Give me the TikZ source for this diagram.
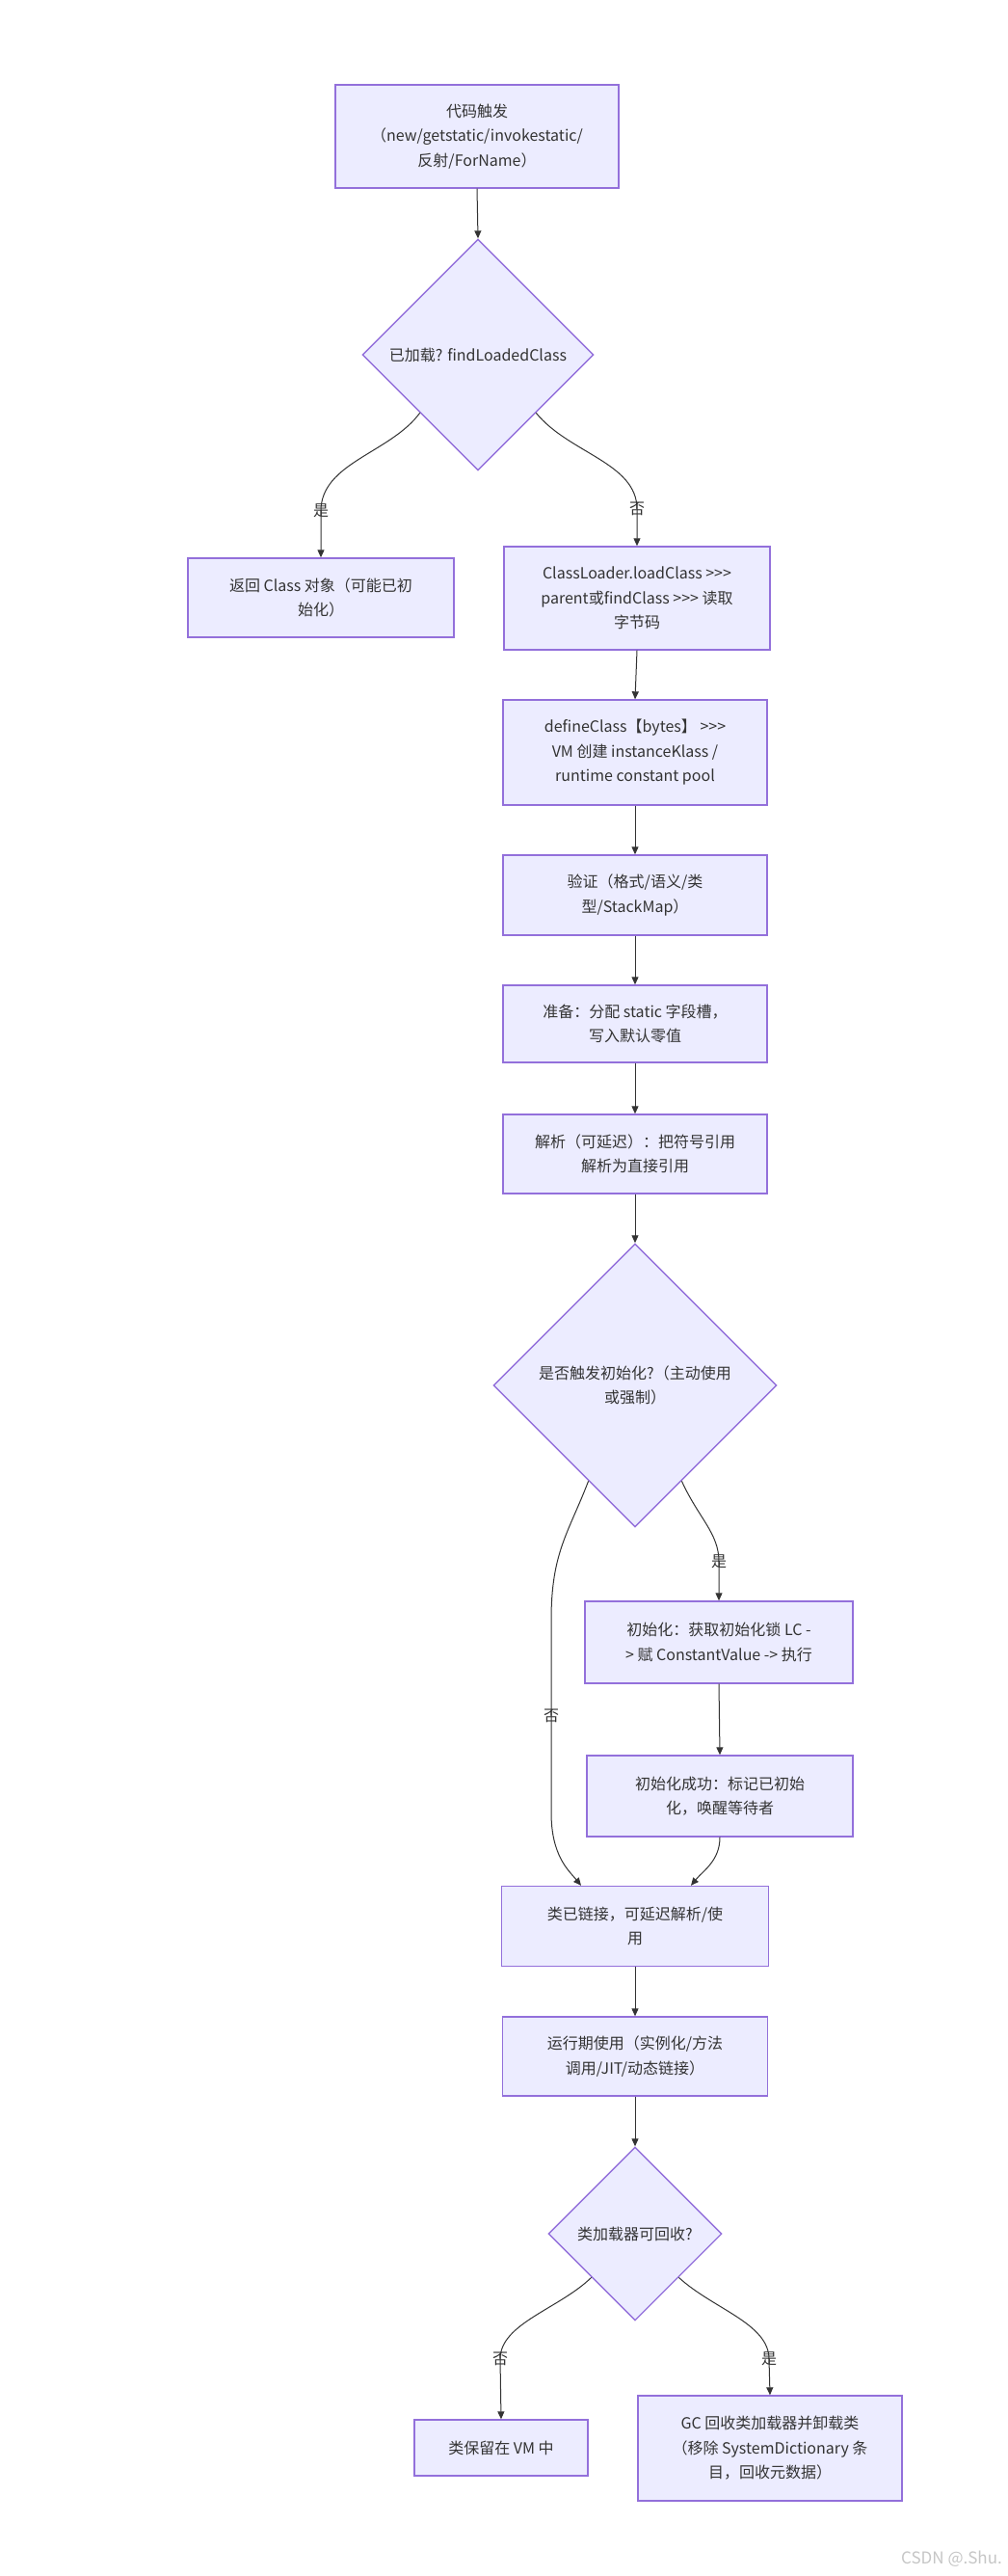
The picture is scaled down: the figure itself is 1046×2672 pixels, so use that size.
\documentclass[tikz,border=0pt]{standalone}
\usepackage{fontspec}
\setmainfont{Noto Sans CJK SC}[Ligatures=TeXOff]
\usetikzlibrary{arrows.meta,shapes.geometric}
\definecolor{boxfill}{HTML}{ECECFF}
\definecolor{boxline}{HTML}{9370DB}
\definecolor{ink}{HTML}{333333}
\begin{document}
\begin{tikzpicture}[x=1pt,y=1pt,
  box/.style={draw=boxline, fill=boxfill, line width=1.4pt, rectangle, inner sep=0pt, align=center, text=ink, font=\fontsize{16}{25.5}\selectfont},
  dia/.style={draw=boxline, fill=boxfill, line width=1.4pt, diamond, inner sep=0pt},
  txt/.style={align=center, text=ink, font=\fontsize{16}{25.5}\selectfont, inner sep=0pt},
  edge/.style={draw=ink, line width=1pt, -{Triangle[length=8pt,width=7pt]}},
  lbl/.style={text=ink, font=\fontsize{16}{20}\selectfont, inner sep=1pt}
]
\useasboundingbox (0,0) rectangle (1046,-2672);
\fill[white] (0,0) rectangle (1046,-2672);

% nodes
\node[box, minimum width=294pt, minimum height=107pt] (n1) at (495,-141.5) {代码触发\\（new/getstatic/invokestatic/\\反射/ForName）};
\node[dia, minimum width=240pt, minimum height=240pt] (d1) at (496,-368) {};
\node[txt] (t1) at (d1.center) {已加载? findLoadedClass};
\node[box, minimum width=276pt, minimum height=82pt] (n3) at (333,-620) {返回 Class 对象（可能已初\\始化）};
\node[box, minimum width=276pt, minimum height=107pt] (n4) at (661,-620.5) {ClassLoader.loadClass >\kern0pt>\kern0pt>\\parent或findClass >\kern0pt>\kern0pt> 读取\\字节码};
\node[box, minimum width=274pt, minimum height=109pt] (n5) at (659,-780.5) {defineClass【bytes】 >\kern0pt>\kern0pt>\\VM 创建 instanceKlass /\\runtime constant pool};
\node[box, minimum width=274pt, minimum height=83pt] (n6) at (659,-928.5) {验证（格式/语义/类\\型/StackMap）};
\node[box, minimum width=274pt, minimum height=80pt] (n7) at (659,-1062) {准备：分配 static 字段槽，\\写入默认零值};
\node[box, minimum width=274pt, minimum height=82pt] (n8) at (659,-1197) {解析（可延迟）：把符号引用\\解析为直接引用};
\node[dia, minimum width=294pt, minimum height=294pt] (d2) at (659,-1437) {};
\node[txt] (t2) at (d2.center) {是否触发初始化?（主动使用\\或强制）};
\node[box, minimum width=278pt, minimum height=85pt] (n10) at (746,-1703.5) {初始化：获取初始化锁 LC -\\> 赋 ConstantValue -> 执行};
\node[box, minimum width=276pt, minimum height=84pt] (n11) at (747,-1863) {初始化成功：标记已初始\\化，唤醒等待者};
\node[box, minimum width=277pt, minimum height=83pt] (n12) at (659,-1998) {类已链接，可延迟解析/使\\用};
\node[box, minimum width=275pt, minimum height=82pt] (n13) at (659,-2133) {运行期使用（实例化/方法\\调用/JIT/动态链接）};
\node[dia, minimum width=180pt, minimum height=180pt] (d3) at (659,-2317) {};
\node[txt] (t3) at (d3.center) {类加载器可回收?};
\node[box, minimum width=180pt, minimum height=58pt] (n15) at (520,-2539) {类保留在 VM 中};
\node[box, minimum width=274pt, minimum height=109pt] (n16) at (799,-2539.5) {GC 回收类加载器并卸载类\\（移除 SystemDictionary 条\\目，回收元数据）};

\node[anchor=east, text=gray!45, font=\fontsize{17}{20}\selectfont, inner sep=0pt] (wm) at (1040,-2654) {CSDN @.Shu.};

% edges
\draw[edge] (n1.south) -- (d1.north);
\draw[edge] (d1.south west) .. controls (405,-470) and (333,-480) .. (333,-530) -- (n3.north) node[lbl, pos=0] {是};
\draw[edge] (d1.south east) .. controls (590,-470) and (661,-480) .. (661,-528) -- (n4.north) node[lbl, pos=0] {否};
\draw[edge] (n4.south) -- (n5.north);
\draw[edge] (n5.south) -- (n6.north);
\draw[edge] (n6.south) -- (n7.north);
\draw[edge] (n7.south) -- (n8.north);
\draw[edge] (n8.south) -- (d2.north);
\draw[edge] (d2.-64) .. controls (725,-1575) and (746,-1590) .. (746,-1620) -- (n10.north) node[lbl, pos=0] {是};
\draw[edge] (d2.-116) .. controls (590,-1590) and (572,-1610) .. (572,-1680) -- (572,-1880) node[lbl, midway] {否} .. controls (572,-1925) and (590,-1940) .. ([xshift=-56pt]n12.north);
\draw[edge] (n10.south) -- (n11.north);
\draw[edge] (n11.south) .. controls (747,-1930) and (730,-1940) .. ([xshift=58pt]n12.north);
\draw[edge] (n12.south) -- (n13.north);
\draw[edge] (n13.south) -- (d3.north);
\draw[edge] (d3.south west) .. controls (580,-2395) and (519,-2410) .. (519,-2447) -- (n15.north) node[lbl, pos=0] {否};
\draw[edge] (d3.south east) .. controls (740,-2395) and (798,-2410) .. (798,-2447) -- (n16.north) node[lbl, pos=0] {是};
\end{tikzpicture}
\end{document}
